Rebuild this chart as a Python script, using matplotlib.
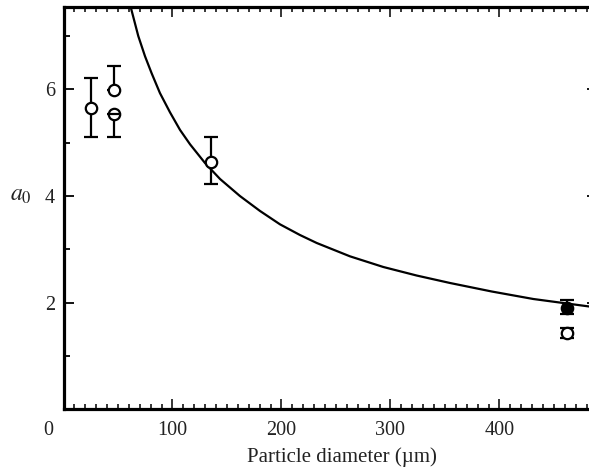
import matplotlib
matplotlib.use("Agg")
import matplotlib.pyplot as plt
from matplotlib.ticker import MultipleLocator, FixedLocator

plt.rcParams['font.family'] = ['Liberation Serif', 'DejaVu Serif']
plt.rcParams['mathtext.fontset'] = 'stix'

# --- data -------------------------------------------------------------
open_x = [25, 46, 135]
open_y = [5.655, 5.99, 4.64]
open_err_lo = [0.545, 0.0, 0.42]
open_err_hi = [0.555, 0.45, 0.46]

bar_x = [46]            # circle with horizontal bar
bar_y = [5.54]
bar_err_lo = [0.43]
bar_err_hi = [0.0]

filled_x = [462]
filled_y = [1.91]
filled_err_lo = [0.12]
filled_err_hi = [0.15]

small_x = [462]
small_y = [1.43]
small_err = [0.10]

curve_x = [61.7, 68.6, 74.8, 80.9, 88.5, 97.7, 106.9, 116.1, 129.8, 143.6,
           161.9, 180.3, 198.6, 216.9, 232.3, 262.8, 293.4, 324.0, 354.6,
           393.0, 431.0, 482.1]
curve_y = [7.54, 7.00, 6.62, 6.30, 5.93, 5.57, 5.24, 4.97, 4.62, 4.32,
           4.00, 3.72, 3.47, 3.27, 3.12, 2.87, 2.67, 2.51, 2.37,
           2.21, 2.07, 1.93]

x_major = [100, 200, 300, 400]
y_major = [2, 4, 6]

# --- figure -------------------------------------------------------------
W, H = 589, 473
fig = plt.figure(figsize=(W / 100, H / 100), dpi=100)
ax = fig.add_axes([63.5 / W, 1 - 409.4 / H, 533 / W, 402.7 / H])

ax.set_xlim(0, 489)
ax.set_ylim(0, 7.55)

ax.plot(curve_x, curve_y, color='black', lw=1.6, zorder=2,
        solid_joinstyle='round')

ekw = dict(fmt='none', ecolor='black', elinewidth=1.6, capsize=4.8,
           capthick=1.6, zorder=3)
ax.errorbar(open_x, open_y, yerr=[open_err_lo, open_err_hi], **ekw)
ax.errorbar(bar_x, bar_y, yerr=[bar_err_lo, bar_err_hi], **ekw)
ax.errorbar(filled_x, filled_y, yerr=[filled_err_lo, filled_err_hi], **ekw)
ax.errorbar(small_x, small_y, yerr=small_err, **ekw)

mk = dict(ls='none', ms=8.2, mew=1.6, mec='black', zorder=4)
ax.plot(open_x, open_y, marker='o', mfc='white', **mk)
ax.plot(bar_x, bar_y, marker='o', mfc='white', **mk)
ax.plot(bar_x, bar_y, marker='_', ls='none', ms=7, mew=1.6, color='black', zorder=5)
ax.plot(filled_x, filled_y, marker='o', mfc='black', **mk)
ax.plot(small_x, small_y, marker='o', mfc='white', **mk)

# spines
for s in ['left', 'bottom', 'top', 'right']:
    ax.spines[s].set_linewidth(2.3)
    ax.spines[s].set_color('black')

ax.xaxis.set_major_locator(FixedLocator(x_major))
ax.xaxis.set_minor_locator(MultipleLocator(10))
ax.yaxis.set_major_locator(FixedLocator(y_major))
ax.yaxis.set_minor_locator(MultipleLocator(1))

ax.tick_params(which='both', direction='in', top=True, right=True,
               colors='black', labelcolor='#222222', labelsize=14.5)
ax.tick_params(axis='x', which='major', length=7.5, width=1.1, pad=8)
ax.tick_params(axis='x', which='minor', length=3.8, width=1.1)
ax.tick_params(axis='y', which='major', length=7.5, width=1.3, pad=6)
ax.tick_params(axis='y', which='minor', length=4.2, width=1.3)

ax.annotate('0', xy=(0, 0), xycoords='axes fraction', xytext=(-11.3, -8),
            textcoords='offset points', ha='center', va='top',
            fontsize=14.5, color='#222222')

ax.set_xlabel('Particle diameter (µm)', fontsize=15, color='#222222')
ax.xaxis.set_label_coords(0.522, -0.095)
ax.set_ylabel('$a_0$', fontsize=17, color='#222222', rotation=0)
ax.yaxis.set_label_coords(-0.08, 0.505)

fig.savefig('out.png', dpi=100)
